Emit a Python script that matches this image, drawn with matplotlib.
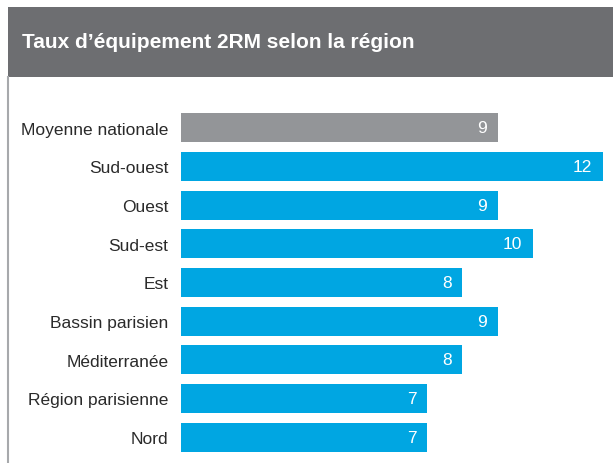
import matplotlib.pyplot as plt
import matplotlib.patches as mpatches

plt.rcParams['font.family'] = ['Liberation Sans', 'DejaVu Sans']

# Taux d'équipement deux-roues motorisés par région (%)
regions = ['Moyenne nationale', 'Sud-ouest', 'Ouest', 'Sud-est', 'Est',
           'Bassin parisien', 'Méditerranée', 'Région parisienne', 'Nord']
taux = [9, 12, 9, 10, 8, 9, 8, 7, 7]

BLUE = '#00a6e2'
GREY = '#939598'
HEADER = '#6d6e71'

W, H = 613, 464
fig = plt.figure(figsize=(W / 100, H / 100), dpi=100)

# header band + left border
fig.patches.append(mpatches.Rectangle((8 / W, 1 - 78 / H), 1 - 8 / W, 70 / H,
                                      transform=fig.transFigure,
                                      facecolor=HEADER, edgecolor='none'))
fig.add_artist(plt.Line2D([8 / W, 8 / W], [0, 1 - 78 / H], transform=fig.transFigure,
                          color='#a7a9ac', lw=1.5))
fig.text(22 / W, 1 - 43 / H, 'Taux d\u2019équipement 2RM selon la région',
         color='white', fontsize=15, fontweight='bold', va='center', ha='left')

top, bottom = 109.5, 457.5
ax = fig.add_axes([181 / W, 1 - bottom / H, (603 - 181) / W, (bottom - top) / H])

ypos = list(range(len(regions)))
colors = [GREY] + [BLUE] * (len(regions) - 1)
bars = ax.barh(ypos, taux, height=0.75, color=colors)

for b, v in zip(bars, taux):
    ax.text(b.get_width() - 0.31, b.get_y() + b.get_height() / 2, str(v),
            color='white', fontsize=12.5, ha='right', va='center')

ax.set_xlim(0, 12)
ax.set_ylim(len(regions) - 0.5, -0.5)
ax.set_yticks(ypos)
ax.set_yticklabels(regions, fontsize=12.5, color='#2a2a2a')
ax.tick_params(axis='y', length=0, pad=9)
ax.set_xticks([])
for s in ax.spines.values():
    s.set_visible(False)
ax.patch.set_alpha(0)

fig.savefig('out.png', dpi=100)
